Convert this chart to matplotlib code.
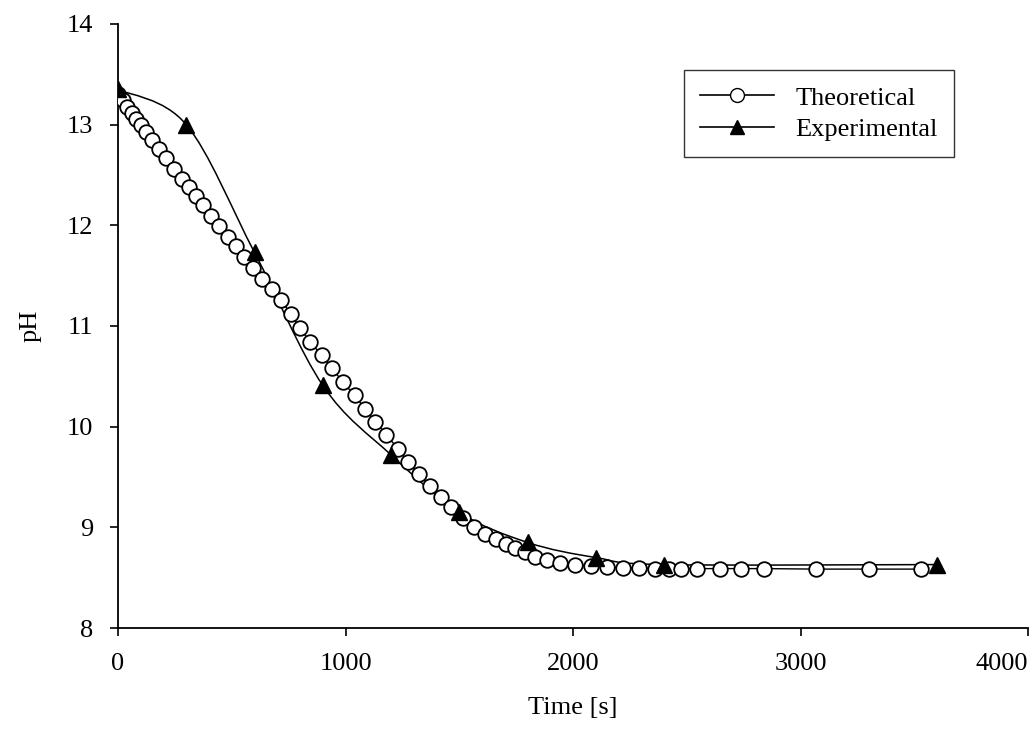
import numpy as np
import matplotlib
matplotlib.use("Agg")
import matplotlib.pyplot as plt
from matplotlib.path import Path
from matplotlib.patches import PathPatch
from matplotlib.lines import Line2D

# theoretical curve (open circles)
theo_t = [0, 20, 40, 60, 80, 100, 125, 150, 180, 210, 245, 280, 310, 345, 375, 410,
          445, 485, 520, 555, 595, 635, 675, 715, 760, 800, 845, 895, 940, 990, 1040,
          1085, 1130, 1180, 1230, 1275, 1325, 1370, 1420, 1465, 1515, 1565, 1615, 1660,
          1705, 1745, 1790, 1835, 1885, 1945, 2010, 2080, 2150, 2220, 2290, 2360, 2420,
          2475, 2545, 2645, 2740, 2840, 3070, 3300, 3530]
theo_ph = [13.30, 13.24, 13.18, 13.12, 13.06, 13.00, 12.93, 12.85, 12.76, 12.67, 12.56,
           12.46, 12.38, 12.29, 12.20, 12.09, 11.99, 11.88, 11.79, 11.69, 11.58, 11.47,
           11.37, 11.26, 11.12, 10.98, 10.84, 10.71, 10.58, 10.44, 10.31, 10.18, 10.05,
           9.92, 9.78, 9.65, 9.53, 9.41, 9.30, 9.20, 9.09, 9.00, 8.93, 8.88, 8.83, 8.79,
           8.75, 8.71, 8.68, 8.65, 8.63, 8.615, 8.605, 8.60, 8.595, 8.59, 8.59, 8.59,
           8.59, 8.59, 8.59, 8.59, 8.585, 8.585, 8.585]

# experimental points (filled triangles)
exp_t = [0, 300, 600, 900, 1200, 1500, 1800, 2100, 2400, 3600]
exp_ph = [13.35, 13.00, 11.73, 10.41, 9.72, 9.15, 8.85, 8.70, 8.63, 8.63]

xticks = [0, 1000, 2000, 3000, 4000]
yticks = [8, 9, 10, 11, 12, 13, 14]

plt.rcParams['font.family'] = ['Liberation Serif', 'DejaVu Serif']

fig = plt.figure(figsize=(10.36, 7.31), dpi=100)
ax = fig.add_axes([0.1139, 0.1409, 0.8784, 0.8263])


def smooth_path(x, y):
    # Excel style smoothed line: bezier segments through the points
    pts = np.column_stack([x, y]).astype(float)
    n = len(pts)
    verts = [pts[0]]
    codes = [Path.MOVETO]
    for i in range(n - 1):
        p0 = pts[i - 1] if i > 0 else pts[i]
        p1 = pts[i]
        p2 = pts[i + 1]
        p3 = pts[i + 2] if i + 2 < n else pts[i + 1]
        c1 = p1 + (p2 - p0) / 6.0
        c2 = p2 - (p3 - p1) / 6.0
        verts += [c1, c2, p2]
        codes += [Path.CURVE4] * 3
    return Path(verts, codes)


ax.plot(theo_t, theo_ph, color='black', lw=1.0, marker='o', ms=10.5,
        mfc='white', mec='black', mew=1.3, zorder=3)
ax.add_patch(PathPatch(smooth_path(exp_t, exp_ph), fc='none', ec='black', lw=1.1, zorder=2))
ax.plot(exp_t, exp_ph, ls='none', marker='^', ms=11, color='black', zorder=4)

ax.set_xlim(0, 4000)
ax.set_ylim(8, 14)
ax.set_xticks(xticks)
ax.set_yticks(yticks)
ax.tick_params(direction='out', length=6, width=1.2, labelsize=19, colors='black')
ax.tick_params(axis='x', pad=12)
ax.tick_params(axis='y', pad=12)
ax.get_xticklabels()[-1].set_horizontalalignment('right')
for s in ['top', 'right']:
    ax.spines[s].set_visible(False)
for s in ['left', 'bottom']:
    ax.spines[s].set_linewidth(1.3)

ax.set_xlabel('Time [s]', fontsize=19, labelpad=16)
ax.set_ylabel('pH', fontsize=19, labelpad=18)

handles = [
    Line2D([], [], color='black', lw=1.2, marker='o', ms=10, mfc='white', mec='black'),
    Line2D([], [], color='black', lw=1.2, marker='^', ms=10),
]
leg = ax.legend(handles, ['Theoretical', 'Experimental'], loc='upper left',
                bbox_to_anchor=(0.608, 0.945), fontsize=19, frameon=True,
                fancybox=False, handlelength=2.8, handletextpad=0.8,
                borderpad=0.6, labelspacing=0.3)
leg.get_frame().set_edgecolor('black')
leg.get_frame().set_linewidth(1.0)

fig.savefig('out.png', dpi=100)
